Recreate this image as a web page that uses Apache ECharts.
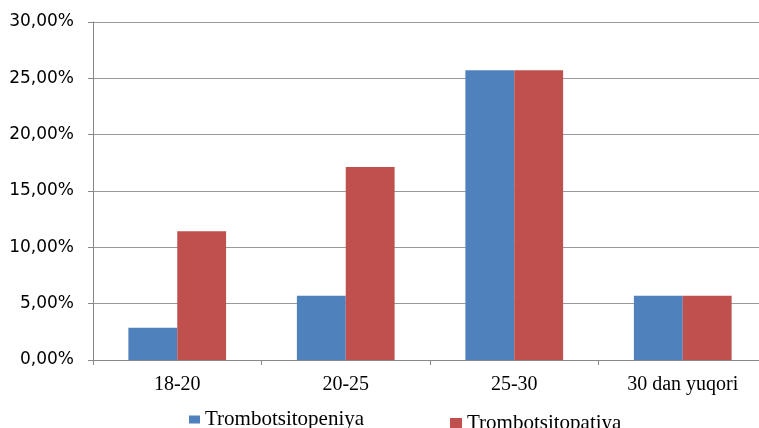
<!DOCTYPE html>
<html><head><meta charset="utf-8">
<script src="https://cdn.jsdelivr.net/npm/echarts@6/dist/echarts.min.js"></script>
<style>html,body{margin:0;padding:0;background:#fff;overflow:hidden;width:759px;height:428px}#c{width:767px;height:428px}</style>
</head><body><div id="c"></div>
<script>
const categories = ['18-20', '20-25', '25-30', '30 dan yuqori'];
const seriesNames = ['Trombotsitopeniya', 'Trombotsitopatiya'];
const trombotsitopeniya = [2.86, 5.71, 25.71, 5.71];
const trombotsitopatiya = [11.43, 17.14, 25.71, 5.71];
const colors = ['#4F81BD', '#C0504D'];

const chart = echarts.init(document.getElementById('c'));
chart.setOption({
  animation: false,
  grid: { left: 93, top: 22, bottom: 68, right: 0 },
  legend: [
    { data: [seriesNames[0]], left: 184, top: 404, itemWidth: 11, itemHeight: 8, itemGap: 6,
      icon: 'rect', textStyle: { fontFamily: 'Liberation Serif', fontSize: 21, color: '#000' } },
    { data: [seriesNames[1]], left: 445, top: 408, itemWidth: 12, itemHeight: 11, itemGap: 6,
      icon: 'rect', textStyle: { fontFamily: 'Liberation Serif', fontSize: 21, color: '#000' } }
  ],
  xAxis: {
    type: 'category', data: categories,
    axisLine: { lineStyle: { color: '#888', width: 1 } },
    axisTick: { show: true, length: 5, lineStyle: { color: '#888' } },
    axisLabel: { fontFamily: 'Liberation Serif', fontSize: 20, color: '#000', margin: 15 }
  },
  yAxis: {
    type: 'value', min: 0, max: 30, interval: 5,
    axisLine: { show: true, lineStyle: { color: '#888' } },
    axisTick: { show: true, length: 5, lineStyle: { color: '#888' } },
    splitLine: { lineStyle: { color: '#999', width: 1 } },
    axisLabel: { fontFamily: 'DejaVu Sans', fontSize: 17, color: '#000', margin: 19,
      formatter: v => v.toFixed(2).replace('.', ',') + '%' }
  },
  series: [
    { name: seriesNames[0], type: 'bar', data: trombotsitopeniya, itemStyle: { color: colors[0] },
      barGap: '0%', barCategoryGap: '42%' },
    { name: seriesNames[1], type: 'bar', data: trombotsitopatiya, itemStyle: { color: colors[1] },
      barGap: '0%', barCategoryGap: '42%' }
  ]
});
</script></body></html>
